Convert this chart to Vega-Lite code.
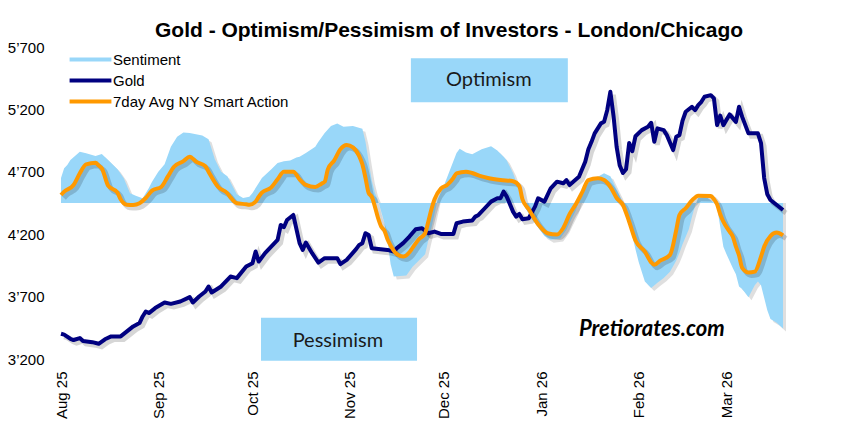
{
  "$schema": "https://vega.github.io/schema/vega-lite/v6.json",
  "width": 722,
  "height": 312,
  "autosize": {"type": "none"},
  "padding": {"left": 61, "top": 47, "right": 69, "bottom": 68},
  "background": "white",
  "title": {
    "text": "Gold - Optimism/Pessimism of Investors - London/Chicago",
    "font": "Liberation Sans",
    "fontSize": 21,
    "fontWeight": "bold",
    "color": "black",
    "anchor": "middle",
    "dx": 27,
    "offset": -1
  },
  "config": {
    "view": {"stroke": null},
    "font": "Liberation Sans",
    "axisX": {"labelExpr": "utcFormat(datum.value, '%b %y')"}
  },
  "datasets": {
    "sentiment": [
      {"date": "2025-08-01", "value": 4650}, {"date": "2025-08-02", "value": 4728}, {"date": "2025-08-03", "value": 4754},
      {"date": "2025-08-04", "value": 4794}, {"date": "2025-08-07", "value": 4861}, {"date": "2025-08-09", "value": 4848},
      {"date": "2025-08-12", "value": 4826}, {"date": "2025-08-14", "value": 4842}, {"date": "2025-08-16", "value": 4794},
      {"date": "2025-08-19", "value": 4720}, {"date": "2025-08-21", "value": 4648}, {"date": "2025-08-23", "value": 4528},
      {"date": "2025-08-25", "value": 4506}, {"date": "2025-08-27", "value": 4488}, {"date": "2025-08-29", "value": 4570},
      {"date": "2025-08-30", "value": 4620}, {"date": "2025-09-01", "value": 4700}, {"date": "2025-09-03", "value": 4760},
      {"date": "2025-09-05", "value": 4900}, {"date": "2025-09-07", "value": 4980}, {"date": "2025-09-09", "value": 5015},
      {"date": "2025-09-11", "value": 5010}, {"date": "2025-09-13", "value": 5000}, {"date": "2025-09-15", "value": 4990},
      {"date": "2025-09-17", "value": 4960}, {"date": "2025-09-19", "value": 4800}, {"date": "2025-09-21", "value": 4700},
      {"date": "2025-09-23", "value": 4665}, {"date": "2025-09-26", "value": 4520}, {"date": "2025-09-28", "value": 4490},
      {"date": "2025-09-30", "value": 4500}, {"date": "2025-10-01", "value": 4530}, {"date": "2025-10-03", "value": 4610},
      {"date": "2025-10-04", "value": 4650}, {"date": "2025-10-07", "value": 4720}, {"date": "2025-10-09", "value": 4770},
      {"date": "2025-10-11", "value": 4785}, {"date": "2025-10-13", "value": 4790}, {"date": "2025-10-15", "value": 4815},
      {"date": "2025-10-16", "value": 4820}, {"date": "2025-10-18", "value": 4850}, {"date": "2025-10-21", "value": 4900},
      {"date": "2025-10-22", "value": 4940}, {"date": "2025-10-24", "value": 5010}, {"date": "2025-10-26", "value": 5066},
      {"date": "2025-10-28", "value": 5088}, {"date": "2025-10-30", "value": 5061}, {"date": "2025-11-02", "value": 5066},
      {"date": "2025-11-05", "value": 5045}, {"date": "2025-11-06", "value": 4940}, {"date": "2025-11-07", "value": 4780},
      {"date": "2025-11-08", "value": 4630}, {"date": "2025-11-09", "value": 4530}, {"date": "2025-11-10", "value": 4470},
      {"date": "2025-11-11", "value": 4380}, {"date": "2025-11-12", "value": 4290}, {"date": "2025-11-13", "value": 4150},
      {"date": "2025-11-14", "value": 3960}, {"date": "2025-11-15", "value": 3861}, {"date": "2025-11-17", "value": 3865},
      {"date": "2025-11-19", "value": 3870}, {"date": "2025-11-21", "value": 3940}, {"date": "2025-11-23", "value": 3990},
      {"date": "2025-11-25", "value": 4040}, {"date": "2025-11-26", "value": 4150}, {"date": "2025-11-27", "value": 4250},
      {"date": "2025-11-29", "value": 4480}, {"date": "2025-12-01", "value": 4590}, {"date": "2025-12-03", "value": 4720},
      {"date": "2025-12-05", "value": 4850}, {"date": "2025-12-06", "value": 4885}, {"date": "2025-12-08", "value": 4855},
      {"date": "2025-12-10", "value": 4840}, {"date": "2025-12-13", "value": 4880}, {"date": "2025-12-16", "value": 4905},
      {"date": "2025-12-18", "value": 4870}, {"date": "2025-12-20", "value": 4820}, {"date": "2025-12-21", "value": 4790},
      {"date": "2025-12-23", "value": 4690}, {"date": "2025-12-25", "value": 4550}, {"date": "2025-12-26", "value": 4450},
      {"date": "2025-12-29", "value": 4320}, {"date": "2026-01-01", "value": 4220}, {"date": "2026-01-02", "value": 4185},
      {"date": "2026-01-04", "value": 4155}, {"date": "2026-01-07", "value": 4165}, {"date": "2026-01-09", "value": 4235},
      {"date": "2026-01-10", "value": 4290}, {"date": "2026-01-12", "value": 4390}, {"date": "2026-01-13", "value": 4470},
      {"date": "2026-01-16", "value": 4634}, {"date": "2026-01-19", "value": 4660}, {"date": "2026-01-21", "value": 4688},
      {"date": "2026-01-23", "value": 4665}, {"date": "2026-01-25", "value": 4560}, {"date": "2026-01-26", "value": 4510},
      {"date": "2026-01-27", "value": 4440}, {"date": "2026-01-28", "value": 4370}, {"date": "2026-01-29", "value": 4320},
      {"date": "2026-01-30", "value": 4190}, {"date": "2026-01-31", "value": 4080}, {"date": "2026-02-01", "value": 3980},
      {"date": "2026-02-02", "value": 3900}, {"date": "2026-02-03", "value": 3820}, {"date": "2026-02-05", "value": 3768},
      {"date": "2026-02-07", "value": 3810}, {"date": "2026-02-09", "value": 3850}, {"date": "2026-02-11", "value": 3900},
      {"date": "2026-02-13", "value": 3990}, {"date": "2026-02-14", "value": 4050}, {"date": "2026-02-15", "value": 4120},
      {"date": "2026-02-17", "value": 4240}, {"date": "2026-02-18", "value": 4340}, {"date": "2026-02-19", "value": 4430},
      {"date": "2026-02-20", "value": 4490}, {"date": "2026-02-22", "value": 4500}, {"date": "2026-02-23", "value": 4490},
      {"date": "2026-02-25", "value": 4455}, {"date": "2026-02-26", "value": 4420}, {"date": "2026-02-27", "value": 4260},
      {"date": "2026-02-28", "value": 4100}, {"date": "2026-03-01", "value": 4040}, {"date": "2026-03-03", "value": 3930},
      {"date": "2026-03-04", "value": 3880}, {"date": "2026-03-05", "value": 3780}, {"date": "2026-03-06", "value": 3760},
      {"date": "2026-03-08", "value": 3695}, {"date": "2026-03-10", "value": 3790}, {"date": "2026-03-11", "value": 3820},
      {"date": "2026-03-12", "value": 3790}, {"date": "2026-03-13", "value": 3690}, {"date": "2026-03-14", "value": 3590},
      {"date": "2026-03-15", "value": 3520}, {"date": "2026-03-17", "value": 3490}, {"date": "2026-03-19", "value": 3445}
    ],
    "gold": [
      {"date": "2025-08-01", "value": 3402}, {"date": "2025-08-02", "value": 3395}, {"date": "2025-08-04", "value": 3362},
      {"date": "2025-08-05", "value": 3352}, {"date": "2025-08-07", "value": 3368}, {"date": "2025-08-08", "value": 3345},
      {"date": "2025-08-11", "value": 3335}, {"date": "2025-08-13", "value": 3322}, {"date": "2025-08-15", "value": 3358},
      {"date": "2025-08-17", "value": 3381}, {"date": "2025-08-20", "value": 3381}, {"date": "2025-08-22", "value": 3421},
      {"date": "2025-08-24", "value": 3461}, {"date": "2025-08-26", "value": 3488}, {"date": "2025-08-27", "value": 3541},
      {"date": "2025-08-28", "value": 3581}, {"date": "2025-08-29", "value": 3568}, {"date": "2025-08-31", "value": 3608},
      {"date": "2025-09-03", "value": 3653}, {"date": "2025-09-05", "value": 3642}, {"date": "2025-09-08", "value": 3661},
      {"date": "2025-09-11", "value": 3696}, {"date": "2025-09-12", "value": 3653}, {"date": "2025-09-14", "value": 3701},
      {"date": "2025-09-16", "value": 3741}, {"date": "2025-09-17", "value": 3781}, {"date": "2025-09-18", "value": 3733},
      {"date": "2025-09-21", "value": 3781}, {"date": "2025-09-24", "value": 3861}, {"date": "2025-09-26", "value": 3848},
      {"date": "2025-09-29", "value": 3941}, {"date": "2025-10-01", "value": 3968}, {"date": "2025-10-02", "value": 4061},
      {"date": "2025-10-03", "value": 3981}, {"date": "2025-10-05", "value": 4048}, {"date": "2025-10-09", "value": 4154},
      {"date": "2025-10-10", "value": 4274}, {"date": "2025-10-11", "value": 4256}, {"date": "2025-10-12", "value": 4314},
      {"date": "2025-10-14", "value": 4354}, {"date": "2025-10-16", "value": 4128}, {"date": "2025-10-17", "value": 4074},
      {"date": "2025-10-18", "value": 4133}, {"date": "2025-10-20", "value": 4048}, {"date": "2025-10-22", "value": 3973},
      {"date": "2025-10-24", "value": 4008}, {"date": "2025-10-28", "value": 4008}, {"date": "2025-10-29", "value": 3960},
      {"date": "2025-10-31", "value": 3994}, {"date": "2025-11-03", "value": 4080}, {"date": "2025-11-04", "value": 4114},
      {"date": "2025-11-05", "value": 4128}, {"date": "2025-11-06", "value": 4208}, {"date": "2025-11-07", "value": 4194},
      {"date": "2025-11-08", "value": 4088}, {"date": "2025-11-13", "value": 4074}, {"date": "2025-11-15", "value": 4061},
      {"date": "2025-11-16", "value": 4088}, {"date": "2025-11-18", "value": 4128}, {"date": "2025-11-20", "value": 4181},
      {"date": "2025-11-22", "value": 4240}, {"date": "2025-11-24", "value": 4248}, {"date": "2025-11-26", "value": 4208},
      {"date": "2025-11-28", "value": 4221}, {"date": "2025-11-30", "value": 4202}, {"date": "2025-12-04", "value": 4202},
      {"date": "2025-12-05", "value": 4288}, {"date": "2025-12-07", "value": 4301}, {"date": "2025-12-10", "value": 4309},
      {"date": "2025-12-11", "value": 4341}, {"date": "2025-12-12", "value": 4354}, {"date": "2025-12-14", "value": 4408},
      {"date": "2025-12-16", "value": 4461}, {"date": "2025-12-18", "value": 4488}, {"date": "2025-12-19", "value": 4488},
      {"date": "2025-12-20", "value": 4541}, {"date": "2025-12-21", "value": 4501}, {"date": "2025-12-23", "value": 4381},
      {"date": "2025-12-24", "value": 4341}, {"date": "2025-12-25", "value": 4362}, {"date": "2025-12-26", "value": 4320},
      {"date": "2025-12-28", "value": 4328}, {"date": "2025-12-30", "value": 4421}, {"date": "2025-12-31", "value": 4488},
      {"date": "2026-01-02", "value": 4461}, {"date": "2026-01-04", "value": 4568}, {"date": "2026-01-06", "value": 4621},
      {"date": "2026-01-08", "value": 4608}, {"date": "2026-01-09", "value": 4634}, {"date": "2026-01-10", "value": 4594},
      {"date": "2026-01-13", "value": 4661}, {"date": "2026-01-15", "value": 4781}, {"date": "2026-01-16", "value": 4880},
      {"date": "2026-01-17", "value": 4940}, {"date": "2026-01-18", "value": 5008}, {"date": "2026-01-20", "value": 5088},
      {"date": "2026-01-21", "value": 5101}, {"date": "2026-01-22", "value": 5194}, {"date": "2026-01-23", "value": 5341},
      {"date": "2026-01-24", "value": 5150}, {"date": "2026-01-25", "value": 4900}, {"date": "2026-01-26", "value": 4750},
      {"date": "2026-01-27", "value": 4690}, {"date": "2026-01-28", "value": 4720}, {"date": "2026-01-29", "value": 4930},
      {"date": "2026-01-30", "value": 4865}, {"date": "2026-01-31", "value": 4985}, {"date": "2026-02-02", "value": 5034},
      {"date": "2026-02-04", "value": 5061}, {"date": "2026-02-05", "value": 5093}, {"date": "2026-02-06", "value": 4941},
      {"date": "2026-02-07", "value": 5048}, {"date": "2026-02-09", "value": 5034}, {"date": "2026-02-10", "value": 4994},
      {"date": "2026-02-12", "value": 4874}, {"date": "2026-02-13", "value": 4981}, {"date": "2026-02-14", "value": 4994},
      {"date": "2026-02-15", "value": 5110}, {"date": "2026-02-16", "value": 5181}, {"date": "2026-02-18", "value": 5221},
      {"date": "2026-02-19", "value": 5194}, {"date": "2026-02-20", "value": 5234}, {"date": "2026-02-21", "value": 5261},
      {"date": "2026-02-22", "value": 5301}, {"date": "2026-02-24", "value": 5314}, {"date": "2026-02-25", "value": 5288},
      {"date": "2026-02-26", "value": 5074}, {"date": "2026-02-27", "value": 5150}, {"date": "2026-02-28", "value": 5074},
      {"date": "2026-03-02", "value": 5160}, {"date": "2026-03-04", "value": 5100}, {"date": "2026-03-05", "value": 5221},
      {"date": "2026-03-06", "value": 5140}, {"date": "2026-03-08", "value": 5008}, {"date": "2026-03-11", "value": 5008},
      {"date": "2026-03-12", "value": 4930}, {"date": "2026-03-13", "value": 4650}, {"date": "2026-03-14", "value": 4520},
      {"date": "2026-03-15", "value": 4474}, {"date": "2026-03-17", "value": 4434}, {"date": "2026-03-19", "value": 4394}
    ],
    "avg": [
      {"date": "2025-08-01", "value": 4514}, {"date": "2025-08-02", "value": 4541}, {"date": "2025-08-05", "value": 4594},
      {"date": "2025-08-07", "value": 4688}, {"date": "2025-08-09", "value": 4760}, {"date": "2025-08-12", "value": 4773},
      {"date": "2025-08-13", "value": 4750}, {"date": "2025-08-14", "value": 4728}, {"date": "2025-08-16", "value": 4590},
      {"date": "2025-08-19", "value": 4533}, {"date": "2025-08-20", "value": 4480}, {"date": "2025-08-22", "value": 4436},
      {"date": "2025-08-24", "value": 4434}, {"date": "2025-08-26", "value": 4448}, {"date": "2025-08-28", "value": 4490},
      {"date": "2025-08-30", "value": 4549}, {"date": "2025-09-02", "value": 4581}, {"date": "2025-09-04", "value": 4661},
      {"date": "2025-09-06", "value": 4741}, {"date": "2025-09-09", "value": 4785}, {"date": "2025-09-11", "value": 4821},
      {"date": "2025-09-13", "value": 4781}, {"date": "2025-09-16", "value": 4745}, {"date": "2025-09-17", "value": 4700},
      {"date": "2025-09-20", "value": 4580}, {"date": "2025-09-23", "value": 4528}, {"date": "2025-09-24", "value": 4495},
      {"date": "2025-09-26", "value": 4448}, {"date": "2025-09-29", "value": 4440}, {"date": "2025-09-30", "value": 4436},
      {"date": "2025-10-02", "value": 4461}, {"date": "2025-10-03", "value": 4500}, {"date": "2025-10-04", "value": 4533},
      {"date": "2025-10-07", "value": 4575}, {"date": "2025-10-09", "value": 4640}, {"date": "2025-10-11", "value": 4701},
      {"date": "2025-10-14", "value": 4701}, {"date": "2025-10-16", "value": 4640}, {"date": "2025-10-18", "value": 4595},
      {"date": "2025-10-21", "value": 4578}, {"date": "2025-10-23", "value": 4605}, {"date": "2025-10-24", "value": 4620},
      {"date": "2025-10-25", "value": 4720}, {"date": "2025-10-27", "value": 4790}, {"date": "2025-10-29", "value": 4880},
      {"date": "2025-10-31", "value": 4914}, {"date": "2025-11-02", "value": 4895}, {"date": "2025-11-04", "value": 4825},
      {"date": "2025-11-05", "value": 4760}, {"date": "2025-11-06", "value": 4650}, {"date": "2025-11-07", "value": 4530},
      {"date": "2025-11-08", "value": 4500}, {"date": "2025-11-09", "value": 4420}, {"date": "2025-11-10", "value": 4330},
      {"date": "2025-11-11", "value": 4260}, {"date": "2025-11-12", "value": 4230}, {"date": "2025-11-13", "value": 4160},
      {"date": "2025-11-14", "value": 4110}, {"date": "2025-11-16", "value": 4040}, {"date": "2025-11-18", "value": 4021},
      {"date": "2025-11-20", "value": 4055}, {"date": "2025-11-21", "value": 4090}, {"date": "2025-11-23", "value": 4160},
      {"date": "2025-11-25", "value": 4208}, {"date": "2025-11-26", "value": 4300}, {"date": "2025-11-27", "value": 4400},
      {"date": "2025-11-28", "value": 4480}, {"date": "2025-11-30", "value": 4565}, {"date": "2025-12-02", "value": 4594},
      {"date": "2025-12-04", "value": 4650}, {"date": "2025-12-05", "value": 4688}, {"date": "2025-12-08", "value": 4701},
      {"date": "2025-12-10", "value": 4690}, {"date": "2025-12-13", "value": 4663}, {"date": "2025-12-15", "value": 4650},
      {"date": "2025-12-19", "value": 4634}, {"date": "2025-12-23", "value": 4625}, {"date": "2025-12-25", "value": 4585},
      {"date": "2025-12-26", "value": 4480}, {"date": "2025-12-28", "value": 4400}, {"date": "2025-12-31", "value": 4280},
      {"date": "2026-01-03", "value": 4208}, {"date": "2026-01-06", "value": 4198}, {"date": "2026-01-08", "value": 4250},
      {"date": "2026-01-10", "value": 4360}, {"date": "2026-01-12", "value": 4440}, {"date": "2026-01-14", "value": 4535},
      {"date": "2026-01-16", "value": 4634}, {"date": "2026-01-19", "value": 4648}, {"date": "2026-01-21", "value": 4634},
      {"date": "2026-01-23", "value": 4580}, {"date": "2026-01-25", "value": 4490}, {"date": "2026-01-27", "value": 4434},
      {"date": "2026-01-29", "value": 4300}, {"date": "2026-01-31", "value": 4150}, {"date": "2026-02-03", "value": 4060},
      {"date": "2026-02-05", "value": 3975}, {"date": "2026-02-06", "value": 3955}, {"date": "2026-02-08", "value": 3990},
      {"date": "2026-02-11", "value": 4034}, {"date": "2026-02-13", "value": 4234}, {"date": "2026-02-14", "value": 4354},
      {"date": "2026-02-16", "value": 4408}, {"date": "2026-02-18", "value": 4470}, {"date": "2026-02-20", "value": 4509},
      {"date": "2026-02-24", "value": 4506}, {"date": "2026-02-25", "value": 4480}, {"date": "2026-02-26", "value": 4440},
      {"date": "2026-02-27", "value": 4360}, {"date": "2026-02-28", "value": 4300}, {"date": "2026-03-02", "value": 4221},
      {"date": "2026-03-03", "value": 4181}, {"date": "2026-03-04", "value": 4100}, {"date": "2026-03-05", "value": 4030},
      {"date": "2026-03-06", "value": 3930}, {"date": "2026-03-08", "value": 3893}, {"date": "2026-03-10", "value": 3900},
      {"date": "2026-03-12", "value": 4021}, {"date": "2026-03-13", "value": 4100}, {"date": "2026-03-15", "value": 4185},
      {"date": "2026-03-17", "value": 4213}, {"date": "2026-03-19", "value": 4190}
    ]
  },
  "layer": [
    {
      "encoding": {
        "x": {
          "field": "date",
          "type": "temporal",
          "title": null,
          "scale": {
            "type": "utc",
            "domain": [
              {"year": 2025, "month": 8, "date": 1, "utc": true},
              {"year": 2026, "month": 3, "date": 19, "utc": true}
            ]
          },
          "axis": {
            "tickCount": {"interval": "month", "step": 1},
            "labelAngle": -90,
            "labelPadding": 12,
            "labelFont": "Liberation Sans",
            "labelFontSize": 15,
            "labelColor": "black",
            "labelOverlap": false,
            "labelFlush": false,
            "domain": false,
            "ticks": false,
            "grid": false
          }
        },
        "y": {
          "field": "value",
          "type": "quantitative",
          "title": null,
          "scale": {"domain": [3200, 5700], "nice": false, "zero": false},
          "axis": {
            "values": [3200, 3700, 4200, 4700, 5200, 5700],
            "labelExpr": "replace(format(datum.value, ','), ',', '’')",
            "labelFont": "Liberation Sans",
            "labelFontSize": 15,
            "labelColor": "black",
            "labelPadding": 17,
            "labelOverlap": false,
            "labelFlush": false,
            "domain": false,
            "ticks": false,
            "grid": false
          }
        }
      },
      "layer": [
        {
          "data": {"name": "sentiment"},
          "mark": {"type": "area", "color": "#7f7f7f", "opacity": 0.25, "xOffset": 3, "yOffset": 3},
          "encoding": {"y2": {"datum": 4450}}
        },
        {
          "data": {"name": "sentiment"},
          "mark": {"type": "area", "opacity": 1},
          "encoding": {
            "y2": {"datum": 4450},
            "color": {
              "datum": "Sentiment",
              "type": "nominal",
              "scale": {
                "domain": ["Sentiment", "Gold", "7day Avg NY Smart Action"],
                "range": ["#99D7F9", "#000080", "#FF9900"]
              },
              "legend": {
                "title": null,
                "orient": "none",
                "legendX": 22,
                "legendY": 5,
                "padding": 0,
                "symbolType": "M-5,0H5",
                "symbolSize": 70,
                "symbolStrokeWidth": 4,
                "labelFont": "Liberation Sans",
                "labelFontSize": 15,
                "labelColor": "black",
                "labelOffset": 15,
                "labelLimit": 400,
                "rowPadding": 4,
                "encode": {
                  "symbols": {
                    "update": {
                      "stroke": {"scale": "color", "field": "value"},
                      "fill": {"value": "transparent"},
                      "strokeWidth": {"signal": "datum.value === 'Sentiment' ? 8 : 4"},
                      "opacity": {"value": 1}
                    }
                  }
                }
              }
            }
          }
        },
        {
          "data": {"name": "gold"},
          "mark": {"type": "line", "color": "#000000", "opacity": 0.16, "strokeWidth": 5, "xOffset": 3, "yOffset": 3},
          "encoding": {}
        },
        {
          "data": {"name": "avg"},
          "mark": {"type": "line", "color": "#000000", "opacity": 0.16, "strokeWidth": 5, "interpolate": "monotone", "xOffset": 3, "yOffset": 3},
          "encoding": {}
        },
        {
          "data": {"name": "gold"},
          "mark": {"type": "line", "strokeWidth": 4, "strokeJoin": "round"},
          "encoding": {"color": {"datum": "Gold", "type": "nominal"}}
        },
        {
          "data": {"name": "avg"},
          "mark": {"type": "line", "strokeWidth": 4, "interpolate": "monotone"},
          "encoding": {"color": {"datum": "7day Avg NY Smart Action", "type": "nominal"}}
        }
      ]
    },
    {
      "data": {"values": [{}]},
      "mark": {"type": "rect", "color": "#99D7F9"},
      "encoding": {
        "x": {"datum": {"year": 2025, "month": 11, "date": 20, "hours": 11, "utc": true}, "type": "temporal"},
        "x2": {"datum": {"year": 2026, "month": 1, "date": 9, "hours": 11, "utc": true}},
        "y": {"datum": 5610, "type": "quantitative"},
        "y2": {"datum": 5258}
      }
    },
    {
      "data": {"values": [{}]},
      "mark": {"type": "text", "font": "Lato", "fontSize": 20, "color": "#1a1a1a", "align": "center", "baseline": "middle"},
      "encoding": {
        "x": {"datum": {"year": 2025, "month": 12, "date": 15, "hours": 7, "utc": true}, "type": "temporal"},
        "y": {"datum": 5434, "type": "quantitative"},
        "text": {"value": "Optimism"}
      }
    },
    {
      "data": {"values": [{}]},
      "mark": {"type": "rect", "color": "#99D7F9"},
      "encoding": {
        "x": {"datum": {"year": 2025, "month": 10, "date": 3, "hours": 17, "utc": true}, "type": "temporal"},
        "x2": {"datum": {"year": 2025, "month": 11, "date": 22, "hours": 10, "utc": true}},
        "y": {"datum": 3530, "type": "quantitative"},
        "y2": {"datum": 3186}
      }
    },
    {
      "data": {"values": [{}]},
      "mark": {"type": "text", "font": "Lato", "fontSize": 20, "color": "#1a1a1a", "align": "center", "baseline": "middle"},
      "encoding": {
        "x": {"datum": {"year": 2025, "month": 10, "date": 28, "hours": 5, "utc": true}, "type": "temporal"},
        "y": {"datum": 3346, "type": "quantitative"},
        "text": {"value": "Pessimism"}
      }
    },
    {
      "data": {"values": [{}]},
      "mark": {"type": "text", "font": "Lato", "fontSize": 22, "fontWeight": "bold", "fontStyle": "italic", "color": "#000000", "align": "center", "baseline": "middle"},
      "encoding": {
        "x": {"datum": {"year": 2026, "month": 2, "date": 5, "hours": 5, "utc": true}, "type": "temporal"},
        "y": {"datum": 3442, "type": "quantitative"},
        "text": {"value": "Pretiorates.com"}
      }
    }
  ]
}
